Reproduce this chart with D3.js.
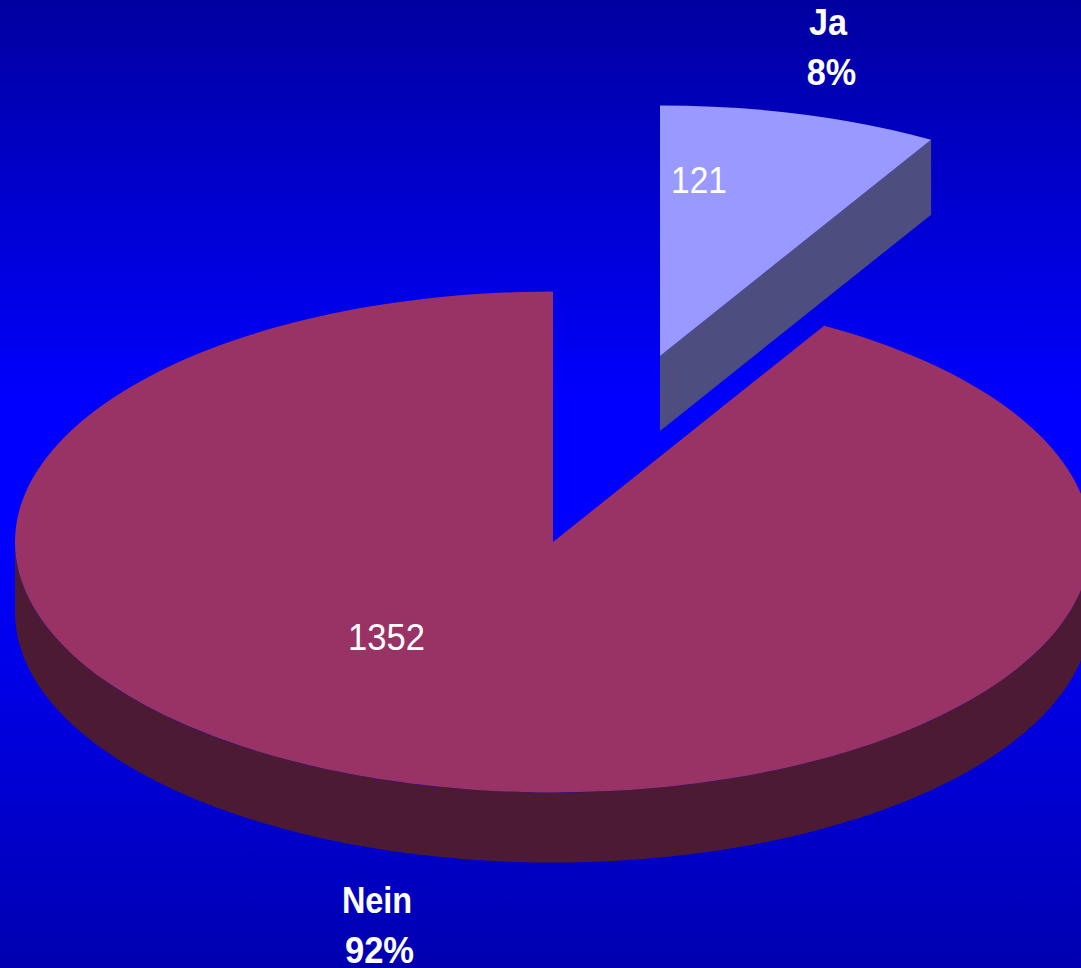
<!DOCTYPE html>
<html><head><meta charset="utf-8"><style>html,body{margin:0;padding:0;overflow:hidden;background:#00f}svg{display:block}</style>
<script src="https://cdn.jsdelivr.net/npm/d3@7"></script></head><body><script>
const categories = ["Ja", "Nein"];
const values = [121, 1352];
const percentLabels = ["8%", "92%"];
const topColors = ["#9999ff", "#993366"];
const sideColors = ["#4d4d80", "#4d1a33"];

const W = 1081, H = 968, rx = 538, ry = 250.5;
const svg = d3.select("body").append("svg").attr("width", W).attr("height", H)
  .style("font-family", "'Liberation Sans',Arial,sans-serif");
const defs = svg.append("defs");
const g = defs.append("linearGradient").attr("id", "bg").attr("x1", 0).attr("x2", 0).attr("y1", 0).attr("y2", 1);
[[0, "#0000a0"], [0.42, "#0000ff"], [0.56, "#0000ff"], [1, "#0000b0"]].forEach(d => g.append("stop").attr("offset", d[0]).attr("stop-color", d[1]));
svg.append("rect").attr("width", W).attr("height", H).attr("fill", "url(#bg)");

const arcs = d3.pie().sort(null)(values);
// The 3D projection in the original widens the small slice slightly
const projectionShift = 0.012;
arcs[0].endAngle += projectionShift;
arcs[1].startAngle += projectionShift;
const arc = d3.arc().innerRadius(0).outerRadius(rx);
const yScale = ry / rx;
const centers = [{x: 660, y: 356, depth: 75}, {x: 553, y: 542, depth: 70}];
const px = (c, a) => c.x + rx * Math.sin(a);
const py = (c, a) => c.y - ry * Math.cos(a);

function sideWall(c, a0, a1) {
  const n = 200;
  const path = d3.path();
  const angles = d3.range(n + 1).map(i => a0 + (a1 - a0) * i / n);
  angles.forEach((a, i) => i ? path.lineTo(px(c, a), py(c, a)) : path.moveTo(px(c, a), py(c, a)));
  angles.slice().reverse().forEach(a => path.lineTo(px(c, a), py(c, a) + c.depth));
  path.closePath();
  return path.toString();
}
function cutWall(c, a) {
  const path = d3.path();
  path.moveTo(c.x, c.y);
  path.lineTo(px(c, a), py(c, a));
  path.lineTo(px(c, a), py(c, a) + c.depth);
  path.lineTo(c.x, c.y + c.depth);
  path.closePath();
  return path.toString();
}
svg.append("path").attr("d", cutWall(centers[0], arcs[0].endAngle)).attr("fill", sideColors[0]);
svg.append("path").attr("d", sideWall(centers[1], Math.PI / 2, 3 * Math.PI / 2)).attr("fill", sideColors[1]);
svg.selectAll("path.top").data(arcs).join("path").attr("class", "top")
  .attr("d", arc).attr("fill", (d, i) => topColors[i])
  .attr("transform", (d, i) => `translate(${centers[i].x},${centers[i].y}) scale(1,${yScale})`);

const label = (x, y, t, weight, squeeze) => {
  const el = svg.append("text").attr("x", x).attr("y", y)
    .attr("text-anchor", "middle").attr("fill", "#fff").attr("font-size", 36).attr("font-weight", weight).text(t);
  el.attr("lengthAdjust", "spacingAndGlyphs").attr("textLength", el.node().getComputedTextLength() * squeeze);
};
label(828, 35, categories[0], "bold", 0.95);
label(831.5, 85, percentLabels[0], "bold", 0.95);
label(377, 913, categories[1], "bold", 0.9);
label(379.5, 963, percentLabels[1], "bold", 0.96);
label(699, 193, values[0], "normal", 0.93);
label(386.5, 650, values[1], "normal", 0.96);
</script></body></html>
